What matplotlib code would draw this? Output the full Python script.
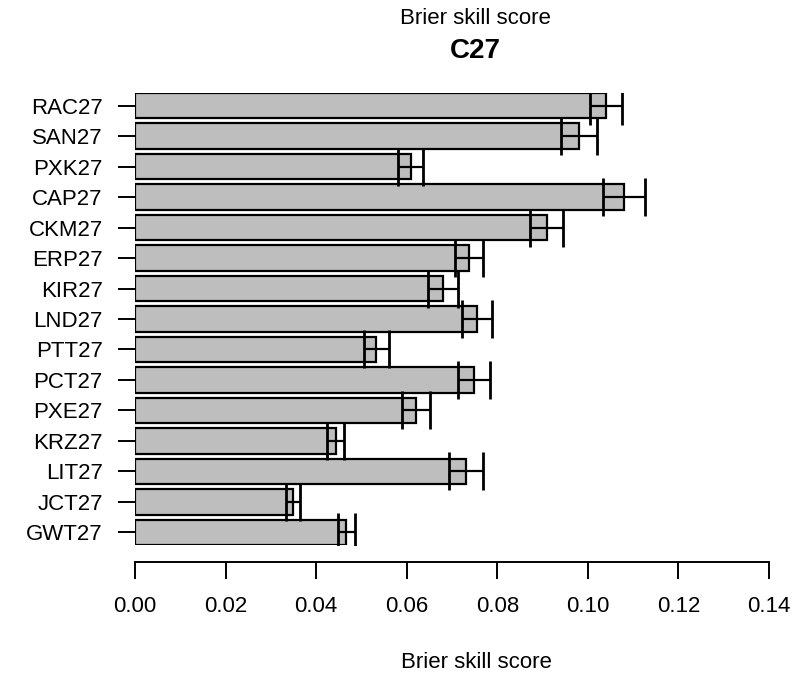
import matplotlib
matplotlib.use("Agg")
import matplotlib.pyplot as plt
import numpy as np

categories = ["RAC27", "SAN27", "PXK27", "CAP27", "CKM27", "ERP27", "KIR27", "LND27",
              "PTT27", "PCT27", "PXE27", "KRZ27", "LIT27", "JCT27", "GWT27"]
values = [0.1040, 0.0981, 0.0609, 0.1080, 0.0909, 0.0738, 0.0680, 0.0756,
          0.0533, 0.0749, 0.0621, 0.0443, 0.0731, 0.0349, 0.0467]
errors = [0.0036, 0.0040, 0.0028, 0.0046, 0.0037, 0.0031, 0.0033, 0.0033,
          0.0028, 0.0036, 0.0031, 0.0019, 0.0037, 0.0016, 0.0019]
xticks = [0.00, 0.02, 0.04, 0.06, 0.08, 0.10, 0.12, 0.14]
xtick_labels = ["0.00", "0.02", "0.04", "0.06", "0.08", "0.10", "0.12", "0.14"]

plt.rcParams['font.family'] = ['Liberation Sans', 'DejaVu Sans']

W, H = 800, 675
fig = plt.figure(figsize=(W / 100, H / 100), dpi=100)

ax_left = 135 / W
ax_right = 769 / W
ax_top_px, ax_bot_px = 93, 545
ax = fig.add_axes([ax_left, 1 - ax_bot_px / H, ax_right - ax_left, (ax_bot_px - ax_top_px) / H])

n = len(categories)
pos = np.arange(n)
bh = 1 / 1.2
ax.barh(pos, values, height=bh, color="#BEBEBE", edgecolor="black", linewidth=1.6, zorder=2)
ax.errorbar(values, pos, xerr=errors, fmt="none", ecolor="black", elinewidth=1.6,
            capsize=13.5, capthick=2.0, zorder=3)

ax.set_xlim(0, 0.14)
ax.set_ylim(n - 1 + bh / 2, -bh / 2)

for s in ["top", "right", "left"]:
    ax.spines[s].set_visible(False)
ax.spines["bottom"].set_position(("outward", 17 * 0.72))
ax.spines["bottom"].set_bounds(0, 0.14)
ax.spines["bottom"].set_linewidth(1.4)

ax.set_xticks(xticks)
ax.set_xticklabels(xtick_labels)
ax.set_yticks(pos)
ax.set_yticklabels(categories)
ax.tick_params(axis="x", direction="out", length=17 * 0.72, width=1.4, pad=12, labelsize=16)
ax.tick_params(axis="y", direction="out", length=17 * 0.72, width=1.4, pad=11, labelsize=16)

fig.text(475 / W, 1 - 19 / H, "Brier skill score", ha="center", va="center", fontsize=16)
fig.text(475 / W, 1 - 51 / H, "C27", ha="center", va="center", fontsize=20, fontweight="bold")
fig.text(476 / W, 1 - 663 / H, "Brier skill score", ha="center", va="center", fontsize=16)

fig.savefig("out.png", dpi=100, facecolor="white")
